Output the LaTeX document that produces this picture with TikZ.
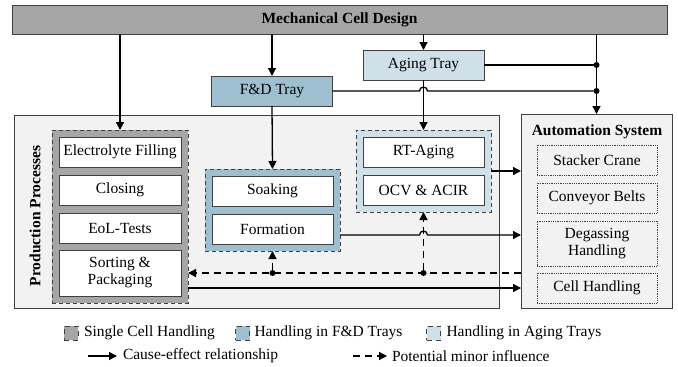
\documentclass[tikz,border=0pt]{standalone}
\usepackage{fontspec}
\setmainfont{Liberation Serif}
\usetikzlibrary{arrows.meta,positioning,fit,backgrounds}
\definecolor{cellgray}{HTML}{A6A6A6}
\definecolor{fdblue}{HTML}{9DBFCF}
\definecolor{agingblue}{HTML}{CFE0E8}
\definecolor{panelgray}{HTML}{F2F2F2}
\definecolor{edge}{HTML}{404040}

\begin{document}
\begin{tikzpicture}[x=1pt,y=1pt,
		every node/.style={font=\fontsize{15.5}{17}\selectfont, inner sep=0pt, outer sep=0pt},
		heading/.style={font=\fontsize{15.5}{17}\selectfont\bfseries},
		proc/.style={rectangle,draw=edge,fill=white,line width=1pt,minimum width=122pt,minimum height=30pt,align=center},
		tray/.style={proc,minimum width=121pt},
		grp/.style={rectangle,draw=edge,dash pattern=on 4pt off 3pt,line width=1pt,inner sep=7pt},
		panel/.style={rectangle,draw=edge,fill=panelgray,line width=1pt},
		hw/.style={rectangle,draw=edge,densely dotted,line width=0.8pt,minimum width=120pt,minimum height=30pt,align=center},
		key/.style={rectangle,draw=edge,dash pattern=on 5pt off 4pt,line width=1pt,minimum size=14pt},
		link/.style={line width=1.3pt},
		arr/.style={link,-{Triangle[length=8pt,width=8pt]}},
		dashline/.style={dash pattern=on 7pt off 5pt},
		junction/.style={circle,fill=black,minimum size=6pt}]

	\useasboundingbox (0,0) rectangle (678,-367);

	% top row
	\node[panel, fill=cellgray, heading, minimum width=655pt, minimum height=29pt] (design) at (339.5,-19.5) {Mechanical Cell Design};
	\node[tray, fill=agingblue] (agingtray) at (423.5,-65) {Aging Tray};
	\node[tray, fill=fdblue] (fdtray) at (272,-91) {F\&D Tray};

	% production processes
	\node[proc] (filling) at (120,-152) {Electrolyte Filling};
	\node[proc] (closing) [below=8pt of filling] {Closing};
	\node[proc] (eol) [below=8pt of closing] {EoL-Tests};
	\node[proc, minimum height=46pt] (sorting) [below=7pt of eol] {Sorting \&\\Packaging};
	\node[proc, minimum width=121pt] (soaking) at (272.5,-191) {Soaking};
	\node[proc, minimum width=121pt] (formation) [below=8pt of soaking] {Formation};
	\node[proc, minimum width=121pt] (rtaging) at (423.5,-152) {RT-Aging};
	\node[proc, minimum width=121pt] (ocv) [below=8pt of rtaging] {OCV \& ACIR};
	\node[heading, rotate=90] (prodlabel) at (35,-216) {Production Processes};

	% automation system
	\node[heading] (autotitle) at (597,-132) {Automation System};
	\node[hw] (crane) at (597,-160) {Stacker Crane};
	\node[hw] (belts) [below=8pt of crane] {Conveyor Belts};
	\node[hw, minimum height=45pt] (degassing) [below=8pt of belts] {Degassing\\Handling};
	\node[hw] (cellhandling) [below=7pt of degassing] {Cell Handling};

	\begin{scope}[on background layer]
		\node[panel, minimum width=485pt, minimum height=193pt] (prod) at (256.5,-211.5) {};
		\node[panel, minimum width=151pt, minimum height=194pt] (auto) at (596.5,-211) {};
		\node[grp, fill=cellgray, fit=(filling)(sorting)] (single) {};
		\node[grp, fill=fdblue, fit=(soaking)(formation)] (fdgrp) {};
		\node[grp, fill=agingblue, fit=(rtaging)(ocv)] (aginggrp) {};
	\end{scope}

	% cause-effect links
	\draw[arr] (design.south -| single.north) -- (single.north);
	\draw[arr] (design.south -| fdtray.north) -- (fdtray.north);
	\draw[arr] (design.south -| agingtray.north) -- (agingtray.north);
	\draw[arr] (design.south -| auto.north) -- (auto.north);
	\node[junction] (jaging) at (auto.north |- agingtray.east) {};
	\node[junction] (jfd) at (auto.north |- fdtray.east) {};
	\draw[link] (agingtray.east) -- (jaging);
	\coordinate (hopa) at (agingtray.south |- fdtray.east);
	\draw[link] (fdtray.east) -- ([xshift=-4pt]hopa) arc[start angle=180,end angle=0,radius=4pt] -- (jfd);
	\draw[arr] (agingtray.south) -- (aginggrp.north);
	\draw[arr] (fdtray.south) -- (fdgrp.north);
	\draw[arr] (aginggrp.east) -- (aginggrp.east -| auto.west);
	\path (fdgrp.east |- formation.center) ++(0,-6) coordinate (fout);
	\coordinate (hopb) at (aginggrp.south |- fout);
	\draw[arr] (fout) -- ([xshift=-4pt]hopb) arc[start angle=180,end angle=0,radius=4pt] -- (fout -| auto.west);
	\draw[arr] (single.east |- cellhandling.center) -- (auto.west |- cellhandling.center);

	% minor influences
	\node[junction] (jfdgrp) at (fdgrp.south |- sorting.center) {};
	\node[junction] (jaginggrp) at (aginggrp.south |- sorting.center) {};
	\draw[arr, dashline] (auto.west |- sorting.center) -- (single.east |- sorting.center);
	\draw[arr, dashline] (jfdgrp) -- (fdgrp.south);
	\draw[arr, dashline] (jaginggrp) -- (aginggrp.south);

	% legend
	\node[key, fill=cellgray] (keysingle) at (71,-333) {};
	\node (txtsingle) [right=6pt of keysingle] {Single Cell Handling};
	\node[key, fill=fdblue] (keyfd) at (242.5,-333) {};
	\node (txtfd) [right=5pt of keyfd] {Handling in F\&D Trays};
	\node[key, fill=agingblue] (keyaging) at (433.5,-333) {};
	\node (txtaging) [right=6pt of keyaging] {Handling in Aging Trays};
	\coordinate (causea) at (88,-356);
	\coordinate (causeb) at (117,-356);
	\draw[arr] (causea) -- (causeb);
	\node (txtcause) [right=6pt of causeb] {Cause-effect relationship};
	\coordinate (minora) at (353,-356);
	\coordinate (minorb) at (387,-356);
	\draw[arr, dashline] (minora) -- (minorb);
	\node (txtminor) [right=5pt of minorb] {Potential minor influence};
\end{tikzpicture}
\end{document}
